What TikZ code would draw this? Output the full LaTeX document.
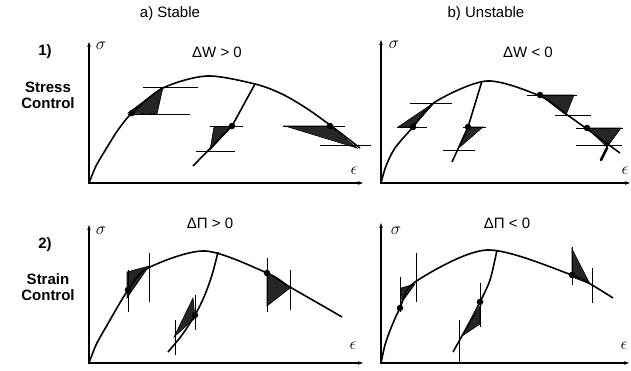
\documentclass[tikz,border=0pt]{standalone}
\usepackage{fontspec}
\setmainfont{Liberation Sans}
\usetikzlibrary{arrows.meta}

\begin{document}
\begin{tikzpicture}[x=1pt,y=-1pt,>=Stealth,
    axis/.style={line width=1.2pt,{Stealth[length=5pt,width=3.5pt]}-{Stealth[length=5pt,width=3.5pt]}},
    curve/.style={line width=1.6pt},
    level/.style={line width=1pt},
    strainlim/.style={line width=0.7pt},
    hatch/.style={fill=black!85,draw=black,line width=0.6pt},
    statept/.style={circle,fill=black,inner sep=0pt,minimum size=6.5pt},
    lab/.style={font=\fontsize{15}{17}\selectfont},
    greek/.style={font=\fontsize{18}{20}\selectfont},
    rowlab/.style={font=\fontsize{15}{16}\selectfont\bfseries,align=center}]
  \useasboundingbox (0,0) rectangle (631,370);
  % headings
  \node[lab] (stab) at (170,14) {a) Stable};
  \node[lab] (unstab) at (486,14) {b) Unstable};
  \node[rowlab] (one) at (45,52) {1)};
  \node[rowlab] (stress) at (48,95) {Stress\\Control};
  \node[rowlab] (two) at (45,245) {2)};
  \node[rowlab] (strain) at (48,287) {Strain\\Control};
  % axes
  \draw[axis] (89,42) -- (89,183) -- (363,183);
  \draw[axis] (381,40) -- (381,183) -- (630,183);
  \draw[axis] (89,225) -- (89,363) -- (363,363);
  \draw[axis] (381,223) -- (381,363) -- (629,363);
  \node[greek] (s1) at (101,46) {$\sigma$};
  \node[greek] (s2) at (394,45) {$\sigma$};
  \node[greek] (s3) at (101,231) {$\sigma$};
  \node[greek] (s4) at (396,231) {$\sigma$};
  \node[greek] (e1) at (354,171) {$\epsilon$};
  \node[greek] (e2) at (625,171) {$\epsilon$};
  \node[greek] (e3) at (353,346) {$\epsilon$};
  \node[greek] (e4) at (624,346) {$\epsilon$};
  \node[lab] (w1) at (217,52) {ΔW > 0};
  \node[lab] (w2) at (528,52) {ΔW < 0};
  \node[lab] (p1) at (210,223) {ΔΠ > 0};
  \node[lab] (p2) at (507,223) {ΔΠ < 0};

  % 1a) stress control, stable
  \draw[hatch] (128,113) -- (163,87) -- (157,114) -- cycle;
  \draw[hatch] (214,127) -- (232,126) -- (210,150) -- cycle;
  \draw[hatch] (285,126) -- (330,126) -- (357,148) -- cycle;
  \draw[curve] plot[smooth] coordinates {(89,183) (96,166) (106,149) (118,130) (132,113) (163,88) (207,76) (255,84) (282,94) (306,108) (330,125) (360,148)};
  \draw[curve] (255,84) -- (232,126) -- (193,166);
  \draw[level] (143,87) -- (198,87) (128,114) -- (190,114);
  \draw[level] (210,126) -- (243,126) (196,151) -- (235,151);
  \draw[level] (283,126) -- (345,126) (320,145) -- (371,145);
  \node[statept] (a1) at (132,113) {};
  \node[statept] (a2) at (232,126) {};
  \node[statept] (a3) at (330,126) {};

  % 1b) stress control, unstable
  \draw[hatch] (398,127) -- (435,102) -- (413,127) -- cycle;
  \draw[hatch] (468,127) -- (483,127) -- (460,147) -- cycle;
  \draw[hatch] (540,95) -- (574,95) -- (566,115) -- cycle;
  \draw[hatch] (587,128) -- (621,128) -- (607,147) -- cycle;
  \draw[curve] plot[smooth] coordinates {(381,183) (386,166) (395,148) (413,127) (435,102) (487,81) (540,96) (566,114) (587,129) (620,153)};
  \draw[curve] (482,81) -- (468,127) -- (452,162);
  \draw[line width=2.6pt,line cap=round] (607,148) -- (601,160);
  \draw[level] (410,103) -- (452,103) (397,127) -- (427,127);
  \draw[level] (463,127) -- (486,127) (443,150) -- (475,150);
  \draw[level] (527,95) -- (577,95) (555,115) -- (591,115);
  \draw[level] (576,128) -- (623,128) (576,145) -- (622,145);
  \node[statept] (b1) at (413,127) {};
  \node[statept] (b2) at (468,127) {};
  \node[statept] (b3) at (540,95) {};
  \node[statept] (b4) at (587,128) {};

  % 2a) strain control, stable
  \draw[hatch] (127,272) -- (149,266) -- (127,298) -- cycle;
  \draw[hatch] (174,337) -- (193,298) -- (195,318) -- cycle;
  \draw[hatch] (267,272) -- (267,306) -- (290,288) -- cycle;
  \draw[curve] plot[smooth] coordinates {(89,363) (96,345) (106,327) (128,290) (148,268) (205,251) (267,273) (290,287) (330,310) (342,317)};
  \draw[curve] plot[smooth] coordinates {(218,252) (212,275) (204,297) (195,315) (182,335) (168,352)};
  \draw[strainlim] (128,270) -- (128,312) (149,253) -- (149,302);
  \draw[strainlim] (175,320) -- (175,355) (195,295) -- (195,330);
  \draw[strainlim] (267,258) -- (267,312) (290,270) -- (290,310);
  \node[statept] (c1) at (128,290) {};
  \node[statept] (c2) at (195,315) {};
  \node[statept] (c3) at (267,273) {};

  % 2b) strain control, unstable
  \draw[hatch] (401,288) -- (415,284) -- (402,302) -- cycle;
  \draw[hatch] (462,336) -- (480,306) -- (480,324) -- cycle;
  \draw[hatch] (572,249) -- (572,277) -- (590,284) -- cycle;
  \draw[curve] plot[smooth] coordinates {(381,363) (385,345) (391,328) (400,308) (415,282) (487,250) (572,275) (592,285) (613,298)};
  \draw[curve] plot[smooth] coordinates {(497,250) (490,280) (480,302) (468,325) (453,352)};
  \draw[strainlim] (400,277) -- (400,312) (416,253) -- (416,302);
  \draw[strainlim] (459,320) -- (459,363) (480,283) -- (480,327);
  \draw[strainlim] (572,247) -- (572,285) (592,268) -- (592,303);
  \node[statept] (d1) at (400,308) {};
  \node[statept] (d2) at (480,302) {};
  \node[statept] (d3) at (572,275) {};
\end{tikzpicture}
\end{document}
